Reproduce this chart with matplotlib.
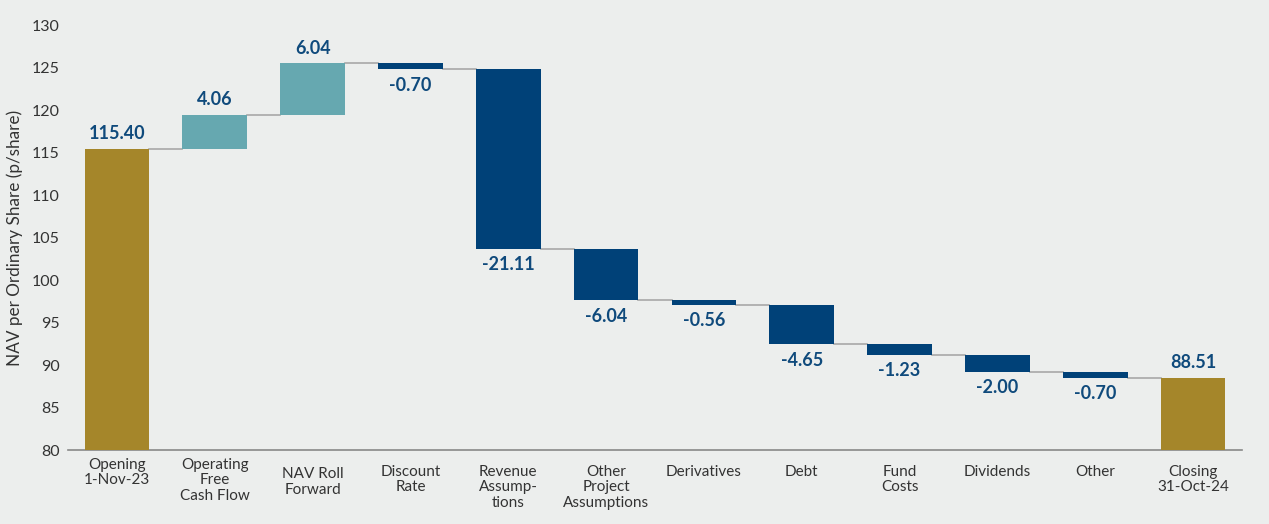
import matplotlib
matplotlib.use("Agg")
import matplotlib.pyplot as plt
import matplotlib.transforms as mtransforms
import numpy as np

categories = ["Opening\n1-Nov-23", "Operating\nFree\nCash Flow", "NAV Roll\nForward",
              "Discount\nRate", "Revenue\nAssump-\ntions", "Other\nProject\nAssumptions",
              "Derivatives", "Debt", "Fund\nCosts", "Dividends", "Other", "Closing\n31-Oct-24"]
opening = 115.40
changes = [4.06, 6.04, -0.70, -21.11, -6.04, -0.56, -4.65, -1.23, -2.00, -0.70]
closing = 88.51
labels = ["115.40", "4.06", "6.04", "-0.70", "-21.11", "-6.04", "-0.56", "-4.65",
          "-1.23", "-2.00", "-0.70", "88.51"]
yticks = [80, 85, 90, 95, 100, 105, 110, 115, 120, 125, 130]

plt.rcParams['font.family'] = ['Lato', 'DejaVu Sans']
BG = "#eceeed"
GOLD = "#a5862a"
TEAL = "#66a8b0"
NAVY = "#004178"
LBL = "#0f4a7c"
TXT = "#333333"

fig = plt.figure(figsize=(12.69, 5.24), dpi=100, facecolor=BG)
ax = fig.add_axes([0.0536, 0.1412, 0.9251, 0.8108], facecolor=BG)

x = np.arange(len(categories))
w = 0.66
cum = np.concatenate([[opening], opening + np.cumsum(changes)])
bottoms = [80]
heights = [opening - 80]
colors = [GOLD]
for i, c in enumerate(changes):
    start = cum[i]
    end = cum[i + 1]
    bottoms.append(min(start, end))
    heights.append(abs(c))
    colors.append(TEAL if c > 0 else NAVY)
bottoms.append(80)
heights.append(closing - 80)
colors.append(GOLD)

ax.bar(x, heights, bottom=bottoms, width=w, color=colors, zorder=3)

# connectors
for i in range(len(categories) - 1):
    lvl = cum[i]
    ax.plot([x[i] + w / 2, x[i + 1] - w / 2], [lvl, lvl], color="#a8a8a8", lw=1.2, zorder=2)

# value labels
vals = [opening] + changes + [closing]
for i, v in enumerate(vals):
    top = bottoms[i] + heights[i]
    if i == 0 or i == len(vals) - 1 or v > 0:
        ax.text(x[i], top + 0.8, labels[i], ha="center", va="bottom",
                fontsize=13, fontweight="bold", color=LBL)
    else:
        ax.text(x[i], bottoms[i] - 0.9, labels[i], ha="center", va="top",
                fontsize=13, fontweight="bold", color=LBL)

ax.set_xlim(-0.5, 11.5)
ax.set_ylim(80, 130)
ax.set_yticks(yticks)
ax.set_yticklabels([str(t) for t in yticks], fontsize=11.5, color=TXT)
ax.set_xticks(x)
ax.set_xticklabels([])
ax.tick_params(axis="both", length=0)
ax.tick_params(axis="y", pad=6)

# category labels (custom vertical offsets, in points below the axis)
offsets = [5.5, 5.5, 12.5, 10.5, 10.5, 10.5, 10.5, 10.5, 10.5, 10.5, 10.5, 10.5]
trans = mtransforms.blended_transform_factory(ax.transData, ax.transAxes)
for i, lab in enumerate(categories):
    t = mtransforms.offset_copy(trans, fig=fig, x=0, y=-offsets[i], units="points")
    ax.text(x[i], 0, lab, transform=t, ha="center", va="top", fontsize=11,
            color=TXT, linespacing=1.15, multialignment="center")

for s in ["top", "right", "left"]:
    ax.spines[s].set_visible(False)
ax.spines["bottom"].set_color("#888888")
ax.spines["bottom"].set_linewidth(1.2)
ax.set_ylabel("NAV per Ordinary Share (p/share)", fontsize=12.3, color=TXT, labelpad=6)

fig.savefig("out.png", dpi=100, facecolor=BG)
